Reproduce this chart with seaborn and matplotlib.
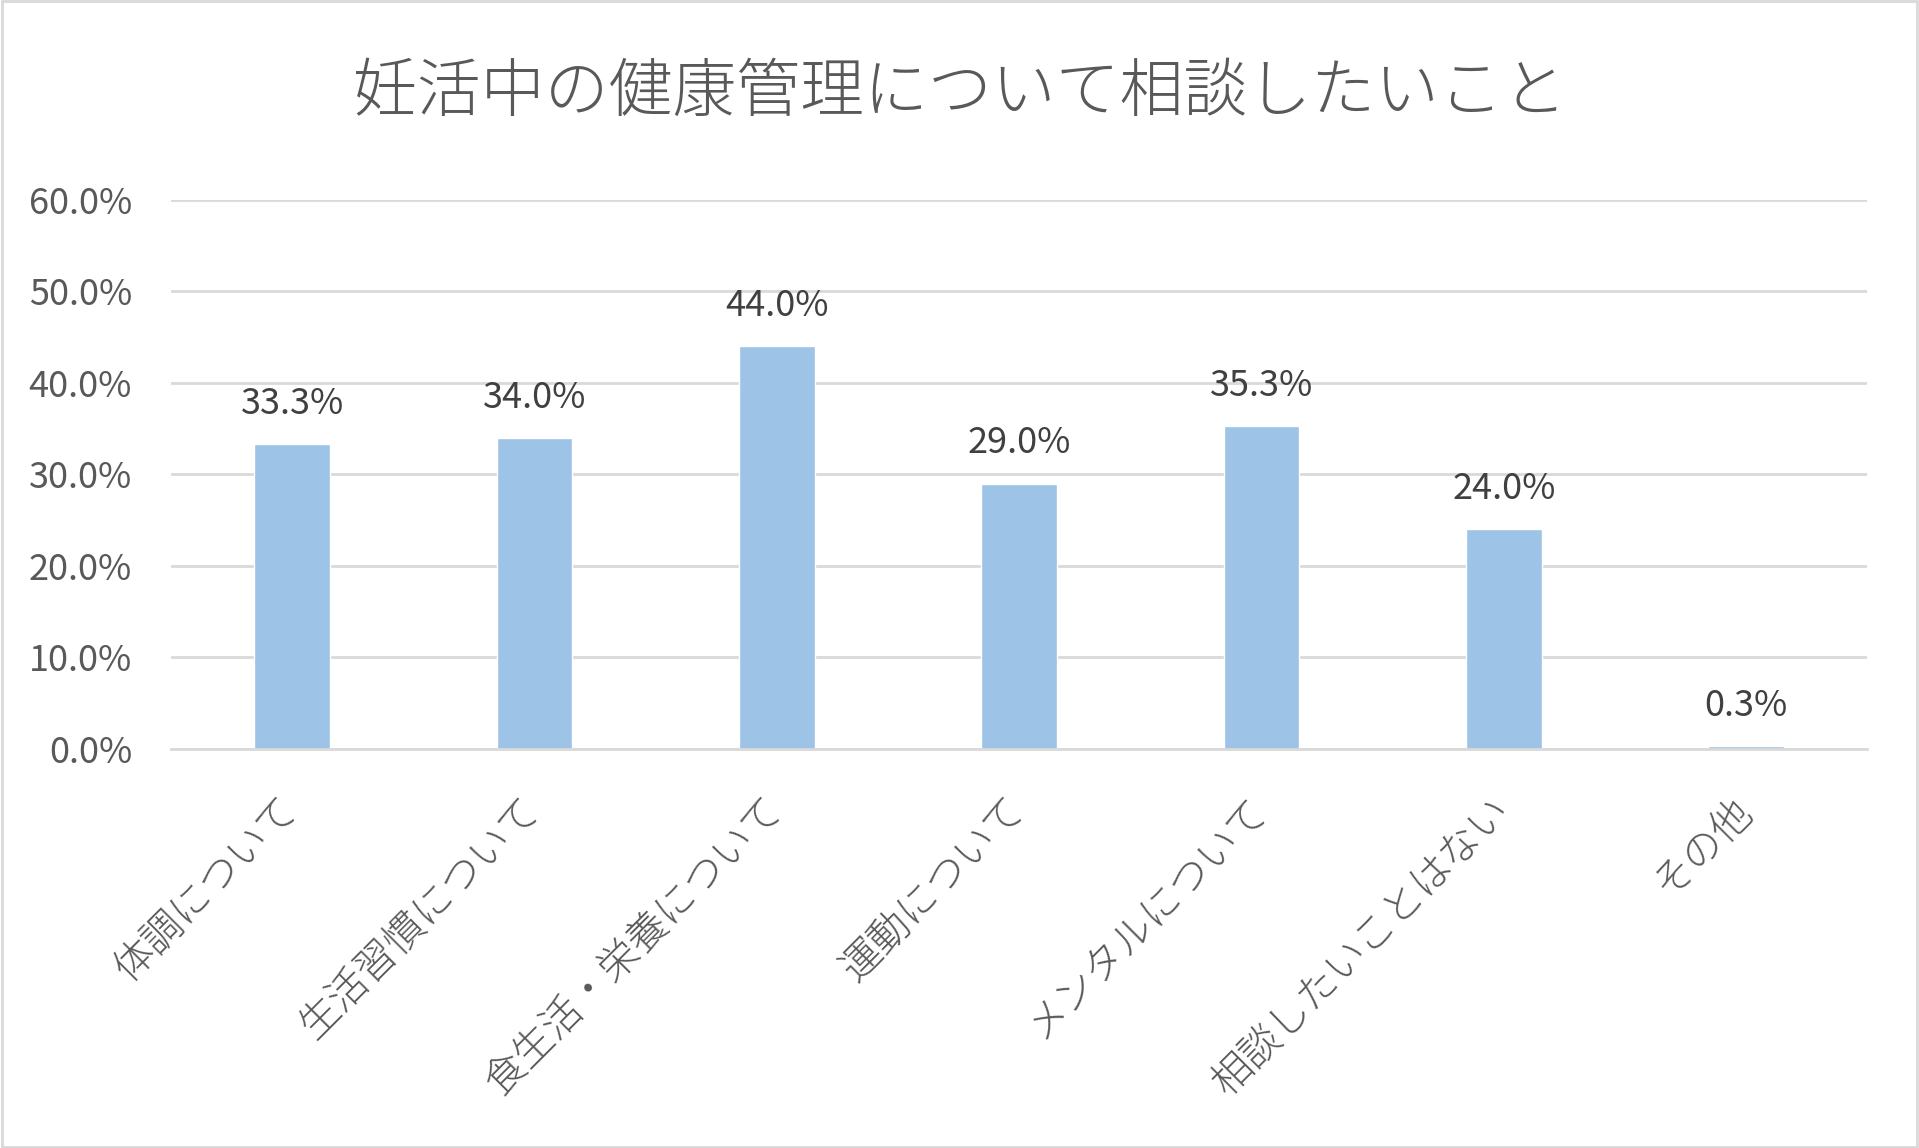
import matplotlib
matplotlib.use("Agg")
import matplotlib.pyplot as plt
import matplotlib.patches as patches
import pandas as pd
import seaborn as sns

# データ
categories = ["体調について", "生活習慣について", "食生活・栄養について", "運動について",
              "メンタルについて", "相談したいことはない", "その他"]
values = [33.3, 34.0, 44.0, 29.0, 35.3, 24.0, 0.3]
yticks = [0, 10, 20, 30, 40, 50, 60]
title = "妊活中の健康管理について相談したいこと"

sns.set_theme(style="white")
plt.rcParams["font.family"] = ["Noto Sans CJK JP", "DejaVu Sans"]

df = pd.DataFrame({"cat": categories, "val": values})

fig = plt.figure(figsize=(19.19, 11.48), dpi=100)
ax = fig.add_axes([0.0891, 0.3476, 0.884, 0.4782])

sns.barplot(data=df, x="cat", y="val", color="#9DC3E6", saturation=1,
            width=0.313, ax=ax)

ax.set_xlim(-0.5, len(categories) - 0.5)
ax.set_ylim(0, 60)
ax.set_yticks(yticks)
ax.set_yticklabels([f"{t:.1f}%" for t in yticks], fontsize=26, color="#595959")
ax.yaxis.grid(True, color="#D9D9D9", linewidth=2)
ax.set_axisbelow(True)

ax.set_xticks(range(len(categories)))
ax.set_xticklabels(categories, rotation=45, ha="right", va="center",
                   rotation_mode="anchor", fontsize=29, color="#595959",
                   fontweight="light")
ax.tick_params(axis="x", length=0, pad=40)
ax.tick_params(axis="y", length=0, pad=28)
ax.set_xlabel("")
ax.set_ylabel("")

for s in ["top", "right", "left"]:
    ax.spines[s].set_visible(False)
ax.spines["bottom"].set_color("#D9D9D9")
ax.spines["bottom"].set_linewidth(2)

ax.bar_label(ax.containers[0], labels=[f"{v:.1f}%" for v in values],
             padding=16, fontsize=26, color="#404040")

fig.text(0.5, 0.919, title, ha="center", va="center", fontsize=46,
         color="#595959", fontweight="light")

# 外枠
fig.patches.append(patches.Rectangle((0.001, 0.001), 0.998, 0.998, transform=fig.transFigure,
                                     fill=False, edgecolor="#D9D9D9", linewidth=2))

fig.savefig("out.png", dpi=100)
